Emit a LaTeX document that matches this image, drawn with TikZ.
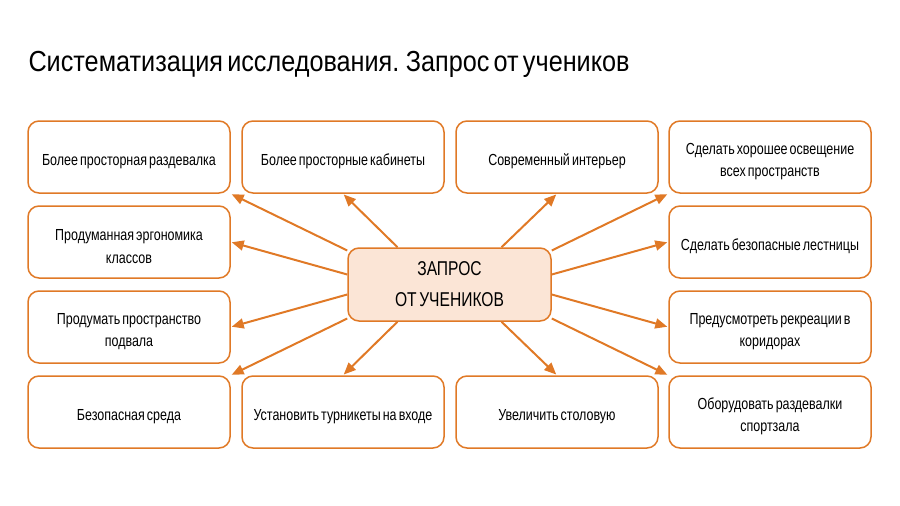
\documentclass[tikz,border=0pt]{standalone}
\usepackage{fontspec}
\setmainfont{Liberation Sans}[FakeStretch=0.78, WordSpace=0.6]
\newfontfamily\titlefont{Liberation Sans}[FakeStretch=0.87, WordSpace=0.6]
\usetikzlibrary{arrows.meta,calc}
\definecolor{orng}{RGB}{224,121,38}
\definecolor{peach}{RGB}{251,229,214}

\begin{document}
\begin{tikzpicture}[x=1pt, y=-1pt,
    item/.style={draw=orng, line width=1.5pt, rounded corners=11pt, minimum width=202pt,
        minimum height=72pt, text width=194pt, inner xsep=4pt, align=flush center,
        font=\fontsize{16}{22.5}\selectfont, execute at begin node={\rule{0pt}{20pt}}},
    hub/.style={draw=orng, fill=peach, line width=1.5pt, rounded corners=11pt, minimum width=203pt,
        minimum height=73pt, align=center, font=\fontsize{20}{31}\selectfont},
    link/.style={draw=orng, line width=2pt, shorten >=1pt, -{Triangle[length=12pt, width=10pt]}}]
    \useasboundingbox (0,0) rectangle (900,506);

    \node[anchor=base west, font=\titlefont\fontsize{29}{35}\selectfont] (title) at (25,71)
        {Систематизация исследования. Запрос от учеников};

    % left and right columns
    \foreach \t [count=\i] in {{Более просторная раздевалка}, {Продуманная эргономика\\классов},
        {Продумать пространство\\подвала}, {Безопасная среда}}
        \node[item] (lft\i) at (129,72+85*\i) {\t};
    \foreach \t [count=\i] in {{Сделать хорошее освещение\\всех пространств}, {Сделать безопасные лестницы},
        {Предусмотреть рекреации в\\коридорах}, {Оборудовать раздевалки\\спортзала}}
        \node[item] (rgt\i) at (770,72+85*\i) {\t};

    % middle columns
    \node[item] (ml1) at (343,157) {Более просторные кабинеты};
    \node[item] (ml4) at (343,412) {Установить турникеты на входе};
    \node[item] (mr1) at (557,157) {Современный интерьер};
    \node[item] (mr4) at (557,412) {Увеличить столовую};

    \node[hub] (hub) at (449.5,284.5) {ЗАПРОС\\ОТ УЧЕНИКОВ};

    % arrows out of the hub
    \foreach \dy/\tgt in {-34/lft1.south east, -10/lft2.east, 10/lft3.east, 34/lft4.north east}
        \draw[link] ($(hub.west)+(0,\dy)$) -- (\tgt);
    \foreach \dy/\tgt in {-34/rgt1.south west, -10/rgt2.west, 10/rgt3.west, 34/rgt4.north west}
        \draw[link] ($(hub.east)+(0,\dy)$) -- (\tgt);
    \draw[link] ($(hub.north)+(-52,0)$) -- (ml1.south);
    \draw[link] ($(hub.north)+(52,0)$) -- (mr1.south);
    \draw[link] ($(hub.south)+(-52,0)$) -- (ml4.north);
    \draw[link] ($(hub.south)+(52,0)$) -- (mr4.north);

\end{tikzpicture}
\end{document}
